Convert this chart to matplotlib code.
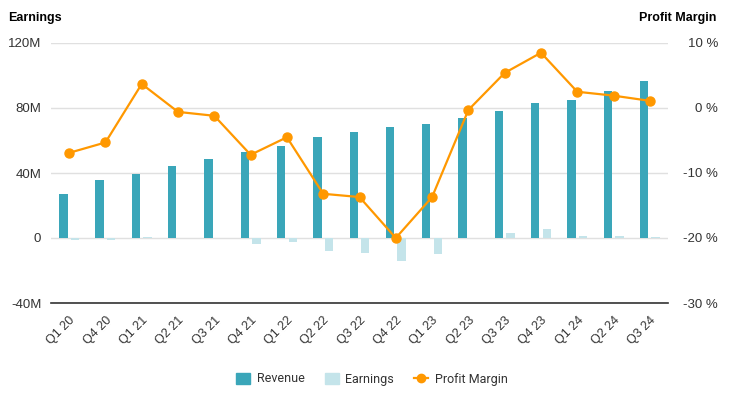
import matplotlib.pyplot as plt
import numpy as np
from matplotlib.lines import Line2D
from matplotlib.patches import Patch

plt.rcParams['font.family'] = ['Liberation Sans', 'DejaVu Sans']

quarters = ['Q1 20', 'Q4 20', 'Q1 21', 'Q2 21', 'Q3 21', 'Q4 21', 'Q1 22', 'Q2 22', 'Q3 22',
            'Q4 22', 'Q1 23', 'Q2 23', 'Q3 23', 'Q4 23', 'Q1 24', 'Q2 24', 'Q3 24']
revenue = [27, 35.7, 39.4, 44.3, 48.6, 52.9, 56.6, 62.2, 65.2,
           68.3, 70.2, 73.8, 78.2, 83.1, 84.9, 90.5, 96.6]
earnings = [-1, -1, 0.5, 0.1, -0.3, -3.5, -2.2, -8, -9,
            -14, -9.6, -0.2, 3.3, 5.8, 1, 1, 0.5]
margin = [-6.9, -5.3, 3.7, -0.6, -1.2, -7.2, -4.5, -13.2, -13.7,
          -20.0, -13.7, -0.3, 5.4, 8.5, 2.5, 1.9, 1.1]

c_rev = '#3aa6b9'
c_earn = '#c4e4ea'
c_line = '#ff9800'

fig = plt.figure(figsize=(7.36, 3.93), dpi=100)
ax = fig.add_axes([51/736, 90/393, 617/736, 260/393])
x = np.arange(len(quarters))

ax.bar(x - 0.16, revenue, width=0.23, color=c_rev, zorder=2)
ax.bar(x + 0.16, earnings, width=0.23, color=c_earn, zorder=2)
ax.set_xlim(-0.5, len(quarters) - 0.5)
ax.set_ylim(-40, 120)
ax.set_yticks([-40, 0, 40, 80, 120])
ax.set_yticklabels(['-40M', '0', '40M', '80M', '120M'])
ax.yaxis.grid(True, color='#e0e0e0', linewidth=1, zorder=0)
ax.set_axisbelow(True)
for s in ['top', 'right', 'left']:
    ax.spines[s].set_visible(False)
ax.spines['bottom'].set_color('#333333')
ax.spines['bottom'].set_linewidth(1.2)
ax.tick_params(axis='y', length=0, pad=7, labelsize=9.5, labelcolor='#333333')
ax.set_xticks(x)
ax.set_xticklabels(quarters, rotation=45, ha='right', rotation_mode='anchor', fontsize=9, color='#333333')
ax.tick_params(axis='x', length=0, pad=8)

ax2 = ax.twinx()
ax2.set_ylim(-30, 10)
ax2.set_yticks([-30, -20, -10, 0, 10])
ax2.set_yticklabels(['-30 %', '-20 %', '-10 %', '0 %', '10 %'], ha='right')
ax2.plot(x, margin, color=c_line, linewidth=1.6, marker='o', markersize=6.5, zorder=3)
for s in ['top', 'right', 'left', 'bottom']:
    ax2.spines[s].set_visible(False)
ax2.tick_params(axis='y', length=0, pad=36, labelsize=9.5, labelcolor='#333333')

fig.text(8/736, 1 - 18/393, 'Earnings', fontsize=9, fontweight='bold', va='center', ha='left')
fig.text(716/736, 1 - 18/393, 'Profit Margin', fontsize=9, fontweight='bold', va='center', ha='right')

handles = [Patch(color=c_rev, label='Revenue'),
           Patch(color=c_earn, label='Earnings'),
           Line2D([0], [0], color=c_line, marker='o', markersize=6, linewidth=1.6, label='Profit Margin')]
fig.legend(handles=handles, loc='center', bbox_to_anchor=(372/736, 1 - 379/393), ncol=3, frameon=False,
           prop={'family': 'Roboto', 'size': 9}, handlelength=1.1, handleheight=1.0, columnspacing=1.6,
           handletextpad=0.55, labelcolor='#333333')

fig.savefig('out.png', dpi=100)
